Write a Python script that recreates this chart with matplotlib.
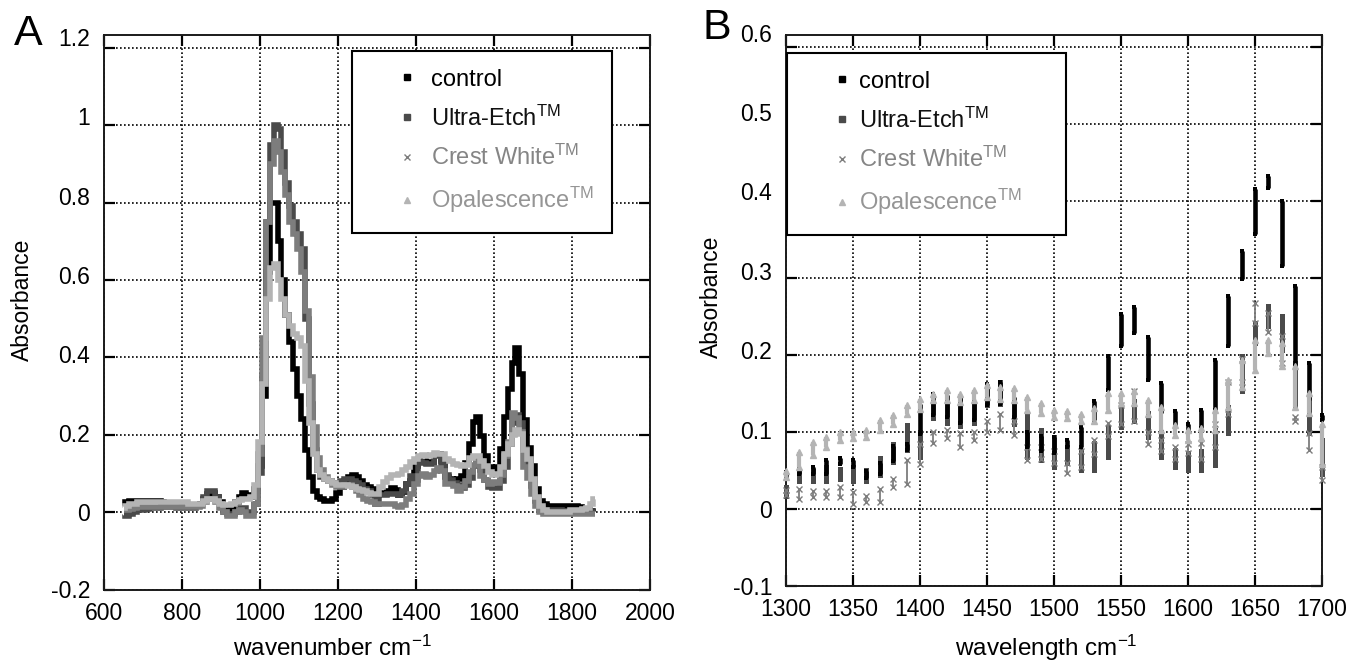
import numpy as np
import matplotlib
matplotlib.use('Agg')
import matplotlib.pyplot as plt
from matplotlib.lines import Line2D
from matplotlib.ticker import FixedLocator, FixedFormatter
from matplotlib.transforms import ScaledTranslation

plt.rcParams['font.family'] = ['Liberation Sans', 'DejaVu Sans']
plt.rcParams['mathtext.fontset'] = 'custom'
plt.rcParams['mathtext.rm'] = 'Liberation Sans'
plt.rcParams['mathtext.it'] = 'Liberation Sans:italic'
plt.rcParams['mathtext.bf'] = 'Liberation Sans:bold'
plt.rcParams['axes.unicode_minus'] = False

# ---------------- data: panel A (full spectra, 10 cm-1 columns) ----------------
wn_A = np.arange(650, 1870, 10)

control_A = [
    0.015, 0.025, 0.028, 0.028, 0.030, 0.030, 0.030, 0.030, 0.030, 0.028,
    0.025, 0.022, 0.020, 0.020, 0.018, 0.018, 0.016, 0.015, 0.015, 0.018,
    0.022, 0.035, 0.048, 0.050, 0.040, 0.025, 0.005, 0.000, 0.010, 0.025,
    0.040, 0.050, 0.045, 0.040, 0.060, 0.120, 0.300, 0.620, 0.800, 0.800,
    0.700, 0.600, 0.510, 0.440, 0.370, 0.300, 0.240, 0.160, 0.090, 0.055,
    0.040, 0.035, 0.030, 0.028, 0.035, 0.050, 0.065, 0.080, 0.090, 0.095,
    0.090, 0.080, 0.070, 0.065, 0.060, 0.044, 0.049, 0.050, 0.055, 0.062,
    0.058, 0.045, 0.053, 0.072, 0.080, 0.118, 0.136, 0.134, 0.129, 0.128,
    0.148, 0.151, 0.133, 0.090, 0.085, 0.083, 0.086, 0.094, 0.128, 0.177,
    0.232, 0.246, 0.196, 0.145, 0.117, 0.105, 0.117, 0.162, 0.245, 0.317,
    0.386, 0.425, 0.358, 0.238, 0.166, 0.119, 0.060, 0.030, 0.020, 0.015,
    0.015, 0.015, 0.015, 0.015, 0.015, 0.015, 0.015, 0.012, 0.008, 0.005,
    0.003, 0.000]

ultra_A = [
    -0.005, -0.010, -0.005, 0.000, 0.005, 0.005, 0.008, 0.010, 0.010, 0.010,
    0.012, 0.012, 0.012, 0.012, 0.010, 0.010, 0.010, 0.010, 0.010, 0.015,
    0.020, 0.040, 0.055, 0.055, 0.040, 0.020, 0.000, -0.005, -0.005, 0.000,
    0.010, 0.010, 0.000, 0.000, 0.020, 0.100, 0.350, 0.750, 0.950, 1.000,
    0.990, 0.930, 0.850, 0.790, 0.750, 0.720, 0.680, 0.500, 0.280, 0.160,
    0.110, 0.090, 0.085, 0.080, 0.075, 0.075, 0.080, 0.085, 0.085, 0.080,
    0.075, 0.070, 0.060, 0.055, 0.045, 0.022, 0.043, 0.044, 0.046, 0.046,
    0.046, 0.044, 0.055, 0.073, 0.093, 0.084, 0.129, 0.126, 0.124, 0.124,
    0.145, 0.151, 0.125, 0.097, 0.084, 0.075, 0.071, 0.063, 0.069, 0.088,
    0.119, 0.127, 0.110, 0.084, 0.066, 0.062, 0.063, 0.080, 0.116, 0.176,
    0.229, 0.251, 0.229, 0.162, 0.120, 0.068, 0.030, 0.010, 0.005, 0.005,
    0.005, 0.005, 0.005, 0.003, 0.000, 0.000, 0.000, 0.000, 0.000, 0.000,
    0.000, 0.000]

crest_A = [
    0.005, 0.005, 0.008, 0.010, 0.012, 0.012, 0.012, 0.012, 0.012, 0.012,
    0.012, 0.012, 0.012, 0.012, 0.012, 0.012, 0.012, 0.012, 0.012, 0.012,
    0.015, 0.025, 0.035, 0.035, 0.025, 0.010, 0.000, -0.010, -0.010, 0.000,
    0.005, 0.000, -0.010, -0.010, 0.020, 0.150, 0.450, 0.750, 0.900, 0.960,
    0.930, 0.880, 0.820, 0.750, 0.720, 0.680, 0.620, 0.520, 0.350, 0.220,
    0.140, 0.110, 0.090, 0.080, 0.070, 0.065, 0.065, 0.070, 0.070, 0.065,
    0.055, 0.045, 0.035, 0.030, 0.025, 0.021, 0.020, 0.020, 0.020, 0.022,
    0.015, 0.013, 0.018, 0.034, 0.048, 0.072, 0.093, 0.098, 0.090, 0.095,
    0.107, 0.113, 0.105, 0.073, 0.073, 0.068, 0.054, 0.065, 0.081, 0.104,
    0.123, 0.134, 0.093, 0.083, 0.073, 0.079, 0.076, 0.095, 0.145, 0.180,
    0.255, 0.243, 0.208, 0.117, 0.088, 0.047, 0.015, 0.000, -0.005, -0.005,
    -0.005, -0.005, -0.005, -0.005, -0.005, -0.005, -0.005, -0.005, -0.005, -0.005,
    -0.005, -0.005]

opal_A = [
    0.010, 0.015, 0.020, 0.022, 0.025, 0.025, 0.025, 0.025, 0.025, 0.025,
    0.025, 0.025, 0.025, 0.025, 0.025, 0.025, 0.025, 0.022, 0.020, 0.020,
    0.022, 0.028, 0.033, 0.035, 0.030, 0.022, 0.018, 0.018, 0.020, 0.025,
    0.032, 0.035, 0.035, 0.040, 0.070, 0.180, 0.330, 0.550, 0.630, 0.640,
    0.600, 0.550, 0.510, 0.480, 0.460, 0.450, 0.430, 0.340, 0.230, 0.150,
    0.110, 0.095, 0.085, 0.080, 0.075, 0.070, 0.070, 0.070, 0.068, 0.065,
    0.060, 0.058, 0.055, 0.050, 0.047, 0.046, 0.064, 0.078, 0.087, 0.095,
    0.096, 0.098, 0.108, 0.117, 0.130, 0.137, 0.146, 0.148, 0.145, 0.148,
    0.154, 0.151, 0.149, 0.138, 0.132, 0.125, 0.123, 0.119, 0.123, 0.140,
    0.145, 0.146, 0.133, 0.118, 0.103, 0.097, 0.099, 0.116, 0.150, 0.177,
    0.200, 0.212, 0.201, 0.160, 0.138, 0.085, 0.040, 0.015, 0.005, 0.000,
    0.000, 0.000, 0.000, 0.000, 0.000, 0.005, 0.005, 0.005, 0.008, 0.010,
    0.020, 0.035]

# ---------------- data: panel B (1300-1700, low/high of each 10 cm-1 column) ----------------
wn_B = np.arange(1300, 1710, 10)

control_B_lo = [0.040, 0.045, 0.045, 0.046, 0.058, 0.054, 0.040, 0.045, 0.062, 0.076,
                0.098, 0.122, 0.120, 0.112, 0.115, 0.135, 0.137, 0.120, 0.080, 0.075,
                0.073, 0.081, 0.081, 0.116, 0.155, 0.212, 0.229, 0.168, 0.125, 0.107,
                0.099, 0.105, 0.129, 0.212, 0.299, 0.357, 0.417, 0.316, 0.186, 0.142,
                0.116]
control_B_hi = [0.048, 0.052, 0.055, 0.063, 0.066, 0.063, 0.050, 0.060, 0.082, 0.085,
                0.137, 0.150, 0.148, 0.146, 0.140, 0.162, 0.165, 0.145, 0.100, 0.095,
                0.094, 0.090, 0.107, 0.140, 0.199, 0.253, 0.262, 0.223, 0.164, 0.127,
                0.110, 0.129, 0.194, 0.277, 0.335, 0.415, 0.432, 0.400, 0.290, 0.190,
                0.122]

ultra_B_lo = [0.017, 0.037, 0.037, 0.037, 0.039, 0.037, 0.037, 0.044, 0.061, 0.076,
              0.067, 0.118, 0.112, 0.108, 0.112, 0.135, 0.137, 0.110, 0.068, 0.064,
              0.055, 0.060, 0.051, 0.051, 0.068, 0.107, 0.114, 0.094, 0.068, 0.055,
              0.051, 0.051, 0.057, 0.099, 0.153, 0.216, 0.238, 0.207, 0.133, 0.099,
              0.045]
ultra_B_hi = [0.028, 0.048, 0.050, 0.055, 0.052, 0.055, 0.051, 0.066, 0.085, 0.109,
              0.100, 0.140, 0.140, 0.140, 0.135, 0.155, 0.165, 0.140, 0.125, 0.103,
              0.094, 0.081, 0.075, 0.086, 0.107, 0.131, 0.140, 0.125, 0.100, 0.077,
              0.073, 0.075, 0.103, 0.133, 0.199, 0.242, 0.264, 0.251, 0.190, 0.142,
              0.090]

crest_B_lo = [0.018, 0.013, 0.015, 0.015, 0.015, 0.007, 0.009, 0.009, 0.028, 0.033,
              0.059, 0.086, 0.092, 0.081, 0.090, 0.100, 0.103, 0.096, 0.064, 0.065,
              0.060, 0.047, 0.055, 0.072, 0.095, 0.110, 0.114, 0.085, 0.075, 0.065,
              0.073, 0.065, 0.080, 0.124, 0.165, 0.242, 0.230, 0.190, 0.114, 0.077,
              0.038]
crest_B_hi = [0.025, 0.026, 0.024, 0.024, 0.028, 0.022, 0.017, 0.026, 0.039, 0.063,
              0.085, 0.100, 0.103, 0.099, 0.100, 0.114, 0.123, 0.114, 0.081, 0.080,
              0.075, 0.060, 0.075, 0.090, 0.112, 0.135, 0.153, 0.100, 0.090, 0.080,
              0.085, 0.086, 0.110, 0.165, 0.195, 0.268, 0.255, 0.225, 0.120, 0.099,
              0.055]

opal_B_lo = [0.041, 0.054, 0.070, 0.080, 0.090, 0.092, 0.093, 0.102, 0.111, 0.124,
             0.130, 0.141, 0.141, 0.139, 0.141, 0.146, 0.143, 0.141, 0.129, 0.125,
             0.120, 0.118, 0.114, 0.114, 0.129, 0.138, 0.138, 0.123, 0.103, 0.096,
             0.090, 0.092, 0.103, 0.133, 0.159, 0.181, 0.203, 0.186, 0.133, 0.125,
             0.059]
opal_B_hi = [0.050, 0.074, 0.087, 0.093, 0.100, 0.100, 0.102, 0.115, 0.122, 0.135,
             0.143, 0.150, 0.154, 0.150, 0.154, 0.161, 0.159, 0.157, 0.146, 0.138,
             0.129, 0.127, 0.123, 0.131, 0.151, 0.151, 0.153, 0.142, 0.133, 0.109,
             0.103, 0.105, 0.129, 0.168, 0.194, 0.220, 0.220, 0.216, 0.186, 0.151,
             0.111]

labels = ['control', r'Ultra-Etch$^{\mathrm{TM}}$', r'Crest White$^{\mathrm{TM}}$',
          r'Opalescence$^{\mathrm{TM}}$']

A_xticks = [600, 800, 1000, 1200, 1400, 1600, 1800, 2000]
A_xticklabels = ['600', '800', '1000', '1200', '1400', '1600', '1800', '2000']
A_yticks = [-0.2, 0, 0.2, 0.4, 0.6, 0.8, 1.0, 1.2]
A_yticklabels = ['-0.2', '0', '0.2', '0.4', '0.6', '0.8', '1', '1.2']
B_xticks = [1300, 1350, 1400, 1450, 1500, 1550, 1600, 1650, 1700]
B_xticklabels = ['1300', '1350', '1400', '1450', '1500', '1550', '1600', '1650', '1700']
B_yticks = [-0.1, 0, 0.1, 0.2, 0.3, 0.4, 0.5, 0.6]
B_yticklabels = ['-0.1', '0', '0.1', '0.2', '0.3', '0.4', '0.5', '0.6']

# ---------------- styles ----------------
c_control = '#000000'
c_ultra = '#4a4a4a'
c_crest = '#7d7d7d'
c_opal = '#b4b4b4'
text_colors = ['#000000', '#111111', '#858585', '#959595']

W, H = 1368, 669
fig = plt.figure(figsize=(W / 100, H / 100), dpi=100)

axA = fig.add_axes([104 / W, (H - 589.5) / H, 546 / W, 554.5 / H])
axB = fig.add_axes([786 / W, (H - 586) / H, 536 / W, 551 / H])


def style_axes(ax, xt, xtl, yt, ytl, xlim, ylim):
    ax.set_xlim(*xlim)
    ax.set_ylim(*ylim)
    ax.xaxis.set_major_locator(FixedLocator(xt))
    ax.xaxis.set_major_formatter(FixedFormatter(xtl))
    ax.yaxis.set_major_locator(FixedLocator(yt))
    ax.yaxis.set_major_formatter(FixedFormatter(ytl))
    ax.tick_params(axis='both', direction='in', length=8, width=1.6,
                   top=True, right=True, labelsize=16.5, color='black')
    ax.tick_params(axis='x', pad=9)
    ax.tick_params(axis='y', pad=10)
    ax.grid(True, color='black', linestyle=(0, (1, 1.4)), linewidth=1.2)
    ax.set_axisbelow(True)
    for s in ax.spines.values():
        s.set_linewidth(1.4)
        s.set_color('#1a1a1a')


# ---- Panel A ----
seriesA = [(control_A, c_control, 2), (ultra_A, c_ultra, 3), (crest_A, c_crest, 4), (opal_A, c_opal, 5)]
for y, c, z in seriesA:
    axA.plot(wn_A, y, drawstyle='steps-mid', color=c, lw=4.0, zorder=z,
             solid_joinstyle='miter', solid_capstyle='butt')
style_axes(axA, A_xticks, A_xticklabels, A_yticks, A_yticklabels, (600, 2000), (-0.2, 1.233))
axA.set_xlabel(r'wavenumber cm$^{-1}$', fontsize=17.5, va='center')
axA.xaxis.set_label_coords((332 - 104) / 546, (589.5 - 648) / 554.5)
axA.set_ylabel('Absorbance', fontsize=16.5, va='center')
axA.yaxis.set_label_coords((22 - 104) / 546, (589.5 - 300) / 554.5)

# ---- Panel B ----
seriesB = [
    (ultra_B_lo, ultra_B_hi, c_ultra, 's', 3.6, 3.6, 3),
    (crest_B_lo, crest_B_hi, c_crest, 'x', 4.0, 1.3, 4),
    (control_B_lo, control_B_hi, c_control, 's', 3.3, 3.3, 5),
    (opal_B_lo, opal_B_hi, c_opal, '^', 4.2, 3.0, 6),
]
for lo, hi, c, m, ms, lw, z in seriesB:
    axB.vlines(wn_B, lo, hi, colors=c, lw=lw, zorder=z, clip_on=False)
    for yy in (lo, hi):
        axB.plot(wn_B, yy, ls='none', marker=m, ms=ms, color=c, mec=c,
                 mew=1.0 if m != 's' else 0.0, zorder=z, clip_on=False)
style_axes(axB, B_xticks, B_xticklabels, B_yticks, B_yticklabels, (1300, 1700), (-0.1, 0.6156))
axB.set_xlabel(r'wavelength cm$^{-1}$', fontsize=17.5, va='center')
axB.xaxis.set_label_coords((1046 - 786) / 536, (586 - 648) / 551)
axB.set_ylabel('Absorbance', fontsize=16.5, va='center')
axB.yaxis.set_label_coords((711 - 786) / 536, (586 - 297) / 551)


def legend_handles():
    return [
        Line2D([], [], ls='none', marker='s', ms=4.5, color=c_control),
        Line2D([], [], ls='none', marker='s', ms=5.0, color=c_ultra),
        Line2D([], [], ls='none', marker='x', ms=4.5, mew=1.0, color=c_crest),
        Line2D([], [], ls='none', marker='^', ms=5.0, color=c_opal),
    ]


def make_legend(ax, bbox, htp):
    leg = ax.legend(legend_handles(), labels, loc='upper left', bbox_to_anchor=bbox,
                    mode='expand', borderaxespad=0, fontsize=17, frameon=True,
                    fancybox=False, edgecolor='black', framealpha=1, facecolor='white',
                    handlelength=3.2, handletextpad=htp, labelspacing=0.62,
                    borderpad=0.75, numpoints=1)
    leg.get_frame().set_linewidth(1.5)
    for t, col in zip(leg.get_texts(), text_colors):
        t.set_color(col)
    leg.set_zorder(10)
    return leg


make_legend(axA, ((352 - 104) / 546, (589.5 - 231) / 554.5, (612 - 352) / 546, 180 / 554.5), -0.6)
make_legend(axB, ((787 - 786) / 536, (586 - 232) / 551, (1066 - 787) / 536, 179 / 551), -0.9)


# the original's y tick labels sit on a slightly stretched scale (drift upward near the top)
def shift_ylabels(ax, vals, top_val, top_shift_px):
    ticks = ax.yaxis.get_major_ticks()
    for tick, v in zip(ticks, vals):
        dy = max(v, 0) / top_val * top_shift_px / 100.0
        lab = tick.label1
        lab.set_transform(lab.get_transform() + ScaledTranslation(0, dy, fig.dpi_scale_trans))


shift_ylabels(axA, A_yticks, 1.2, 10.5)
shift_ylabels(axB, B_yticks, 0.6, 14.5)

fig.text(14 / W, (H - 45) / H, 'A', fontsize=31, ha='left', va='baseline')
fig.text(703 / W, (H - 39) / H, 'B', fontsize=31, ha='left', va='baseline')

fig.savefig('out.png', dpi=100)
